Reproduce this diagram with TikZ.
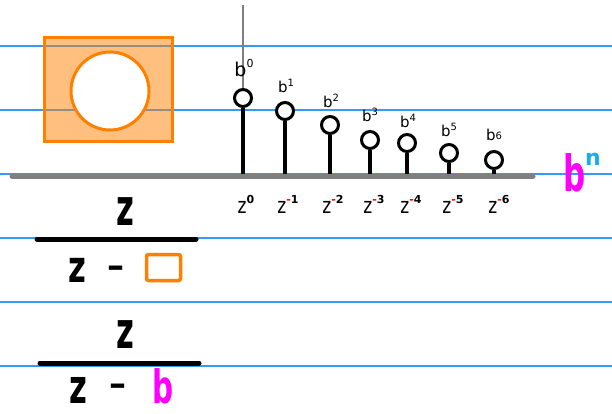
\documentclass[tikz,border=0pt]{standalone}
\usepackage{fontspec}
\setmainfont{DejaVu Sans}
\definecolor{ruled}{HTML}{3399FF}
\definecolor{orangeS}{HTML}{FF8000}
\definecolor{axisgray}{HTML}{7F7F7F}
\definecolor{mag}{HTML}{FF00FF}
\definecolor{cyanN}{HTML}{1AAAF0}
\newcommand{\zpow}[1]{\scalebox{1}[1.3]{z}\raisebox{0.55em}{\fontsize{11}{11}\selectfont\bfseries\textcolor{red}{-}#1}}
\begin{document}
\begin{tikzpicture}[x=1pt,y=-1pt,
  ruleline/.style={ruled, line width=1.2},
  stemdot/.style={circle, draw=black, fill=white, line width=3, minimum size=17, inner sep=0},
  stemline/.style={black, line width=3.5},
  blabel/.style={font=\fontsize{15}{15}\selectfont, inner sep=0},
  zlabel/.style={font=\fontsize{17}{17}\selectfont, inner sep=0, anchor=base},
  bigtxt/.style={font=\fontsize{34}{34}\selectfont\bfseries, inner sep=0, anchor=base},
  fracbar/.style={black, line width=5, line cap=round}]
\useasboundingbox (0,0) rectangle (612,414);
\fill[white] (0,0) rectangle (612,414);
\foreach \yy in {46,110,174,238,302,366} \draw[ruleline] (0,\yy) -- (612,\yy);

% orange box with hole
\node[draw=orangeS, fill=orangeS, fill opacity=0.5, line width=3, minimum width=128, minimum height=104, inner sep=0] (box) at (108,90) {};
\node[circle, draw=orangeS, fill=white, line width=3, minimum size=78, inner sep=0] (hole) at (110,91) {};

% axis
\coordinate (axL) at (12,176);
\coordinate (axR) at (533,176);
\coordinate (vtop) at (243,5);

% stems
\foreach \i/\xx in {0/243,1/285,2/330,3/370,4/407,5/449,6/494}{
  \coordinate (base\i) at (\xx,176);
}
\draw[axisgray, line width=1.5] (vtop) -- (243,98);
\foreach \i/\xx/\cy in {0/243/98,1/285/111,2/330/125,3/370/140,4/407/143,5/449/153,6/494/160}{
  \node[stemdot] (c\i) at (\xx,\cy) {};
  \draw[stemline] (c\i.south) -- (base\i);
}
\draw[axisgray, line width=5, line cap=round] (axL) -- (axR);

% top labels
\node[blabel, font=\fontsize{19}{19}\selectfont] (b0) at (244,68) {b\raisebox{0.45em}{\fontsize{11}{11}\selectfont 0}};
\node[blabel] (b1) at (286,86) {b\raisebox{0.45em}{\fontsize{10}{10}\selectfont 1}};
\node[blabel] (b2) at (331,101) {b\raisebox{0.45em}{\fontsize{10}{10}\selectfont 2}};
\node[blabel] (b3) at (370,115) {b\raisebox{0.45em}{\fontsize{10}{10}\selectfont 3}};
\node[blabel] (b4) at (408,121) {b\raisebox{0.45em}{\fontsize{10}{10}\selectfont 4}};
\node[blabel] (b5) at (449,130) {b\raisebox{0.45em}{\fontsize{10}{10}\selectfont 5}};
\node[blabel] (b6) at (494,135) {b\raisebox{0.1em}{\fontsize{10}{10}\selectfont 6}};

% bottom labels
\node[zlabel] (z0) at (246,213) {\scalebox{1}[1.3]{z}\raisebox{0.55em}{\fontsize{11}{11}\selectfont\bfseries 0}};
\node[zlabel] (z1) at (288,213) {\zpow{1}};
\node[zlabel] (z2) at (333,213) {\zpow{2}};
\node[zlabel] (z3) at (374,213) {\zpow{3}};
\node[zlabel] (z4) at (411,213) {\zpow{4}};
\node[zlabel] (z5) at (453,213) {\zpow{5}};
\node[zlabel] (z6) at (499,213) {\zpow{6}};

% first fraction
\node[bigtxt] (n1) at (125,225) {\scalebox{0.9}[1.5]{z}};
\coordinate (bar1L) at (37,239);
\coordinate (bar1R) at (196,239);
\draw[fracbar] (bar1L) -- (bar1R);
\node[bigtxt] (d1z) at (77,282) {\scalebox{0.9}[1.3]{z}};
\node[bigtxt] (d1m) at (116,282) {\raisebox{5pt}{–}};
\node[draw=orangeS, line width=3.5, rounded corners=2, minimum width=34, minimum height=26, inner sep=0] (sq) at (163.5,267.5) {};

% second fraction
\node[bigtxt] (n2) at (125,348) {\scalebox{0.9}[1.5]{z}};
\coordinate (bar2L) at (40,363);
\coordinate (bar2R) at (199,363);
\draw[fracbar] (bar2L) -- (bar2R);
\node[bigtxt] (d2z) at (78,403) {\scalebox{0.9}[1.4]{z}};
\node[bigtxt] (d2m) at (118,403) {\raisebox{8pt}{–}};
\node[inner sep=0, anchor=base, text=mag, font=\fontsize{46}{46}\selectfont\bfseries] (bb) at (163,403) {\scalebox{0.64}[1]{b}};

% b^n
\node[inner sep=0, anchor=base, text=mag, font=\fontsize{50}{50}\selectfont\bfseries] (bn) at (575,191) {\scalebox{0.62}[1]{b}};
\node[inner sep=0, anchor=base, text=cyanN, font=\fontsize{22}{22}\selectfont\bfseries] (nn) at (593,165) {n};
\end{tikzpicture}
\end{document}
